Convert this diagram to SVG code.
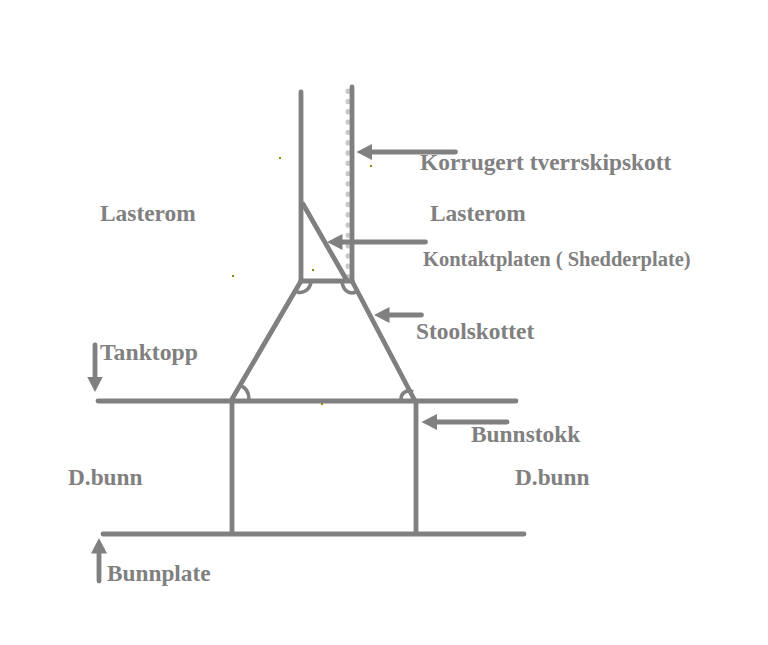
<svg xmlns="http://www.w3.org/2000/svg" width="768" height="645" viewBox="0 0 768 645">
<style>
.l{stroke:#808080;stroke-width:4.8;fill:none;stroke-linecap:round}
.a{stroke:#808080;stroke-width:4.8;fill:none;stroke-linecap:round;marker-end:url(#h)}
.c{stroke:#808080;stroke-width:3.6;fill:none}
.d{stroke:#c8c8c8;stroke-width:5;fill:none;stroke-linecap:round;stroke-dasharray:0.4 9.9}
.t{font-family:"Liberation Serif",serif;font-weight:bold;fill:#808080}
.s{fill:#8a8a00}
</style>
<defs>
<marker id="h" markerUnits="userSpaceOnUse" markerWidth="16" markerHeight="17" refX="0" refY="8.5" orient="auto">
<path d="M0 0.5L15.5 8.5L0 16.5Z" fill="#808080"/>
</marker>
</defs>
<rect width="768" height="645" fill="#fff"/>
<g id="connectors">
<path class="d" d="M348 91V281"/>
<path class="l" d="M301 92V281"/>
<path class="l" d="M352 87V281"/>
<path class="l" d="M301 281H352"/>
<path class="l" d="M303 204L346 279"/>
<path class="l" d="M301 281L232 399"/>
<path class="l" d="M352 281L414 399"/>
<path class="l" d="M98 401H516"/>
<path class="l" d="M232 401V533"/>
<path class="l" d="M416 401V533"/>
<path class="l" d="M103 534H524"/>
<path class="c" d="M297 292C304 294 310 289 311 282"/>
<path class="c" d="M342 282C343 290 349 295 356 292"/>
<path class="c" d="M239 385C245 387 249 392 249 399"/>
<path class="c" d="M401 399C401 393 407 389 413 392"/>
<path class="a" d="M455.500 152H372"/>
<path class="a" d="M425.500 242H342.500"/>
<path class="a" d="M421.500 315H389.500"/>
<path class="a" d="M507 422H437"/>
<path class="a" d="M95 345V376.500"/>
<path class="a" d="M99 581V553.500"/>
</g>
<g id="specks">
<rect class="s" x="279" y="157" width="2" height="2"/>
<rect class="s" x="370" y="165" width="2" height="2"/>
<rect class="s" x="232" y="275" width="2" height="2"/>
<rect class="s" x="312" y="269" width="2" height="2"/>
<rect class="s" x="321" y="403" width="2" height="2"/>
</g>
<g id="label-korrugert"><text class="t" x="420" y="169.500" font-size="23.4">Korrugert tverrskipskott</text></g>
<g id="label-lasterom-l"><text class="t" x="100" y="220.500" font-size="23.4">Lasterom</text></g>
<g id="label-lasterom-r"><text class="t" x="430" y="220.500" font-size="23.4">Lasterom</text></g>
<g id="label-kontakt"><text class="t" x="423" y="265.500" font-size="20.5">Kontaktplaten ( Shedderplate)</text></g>
<g id="label-stool"><text class="t" x="416" y="338.500" font-size="23.4">Stoolskottet</text></g>
<g id="label-tanktopp"><text class="t" x="100" y="360" font-size="23.7">Tanktopp</text></g>
<g id="label-bunnstokk"><text class="t" x="471" y="441.500" font-size="23.4">Bunnstokk</text></g>
<g id="label-dbunn-l"><text class="t" x="68" y="484.500" font-size="23.3">D.bunn</text></g>
<g id="label-dbunn-r"><text class="t" x="515" y="484.500" font-size="23.3">D.bunn</text></g>
<g id="label-bunnplate"><text class="t" x="107" y="581" font-size="23.3">Bunnplate</text></g>
</svg>
